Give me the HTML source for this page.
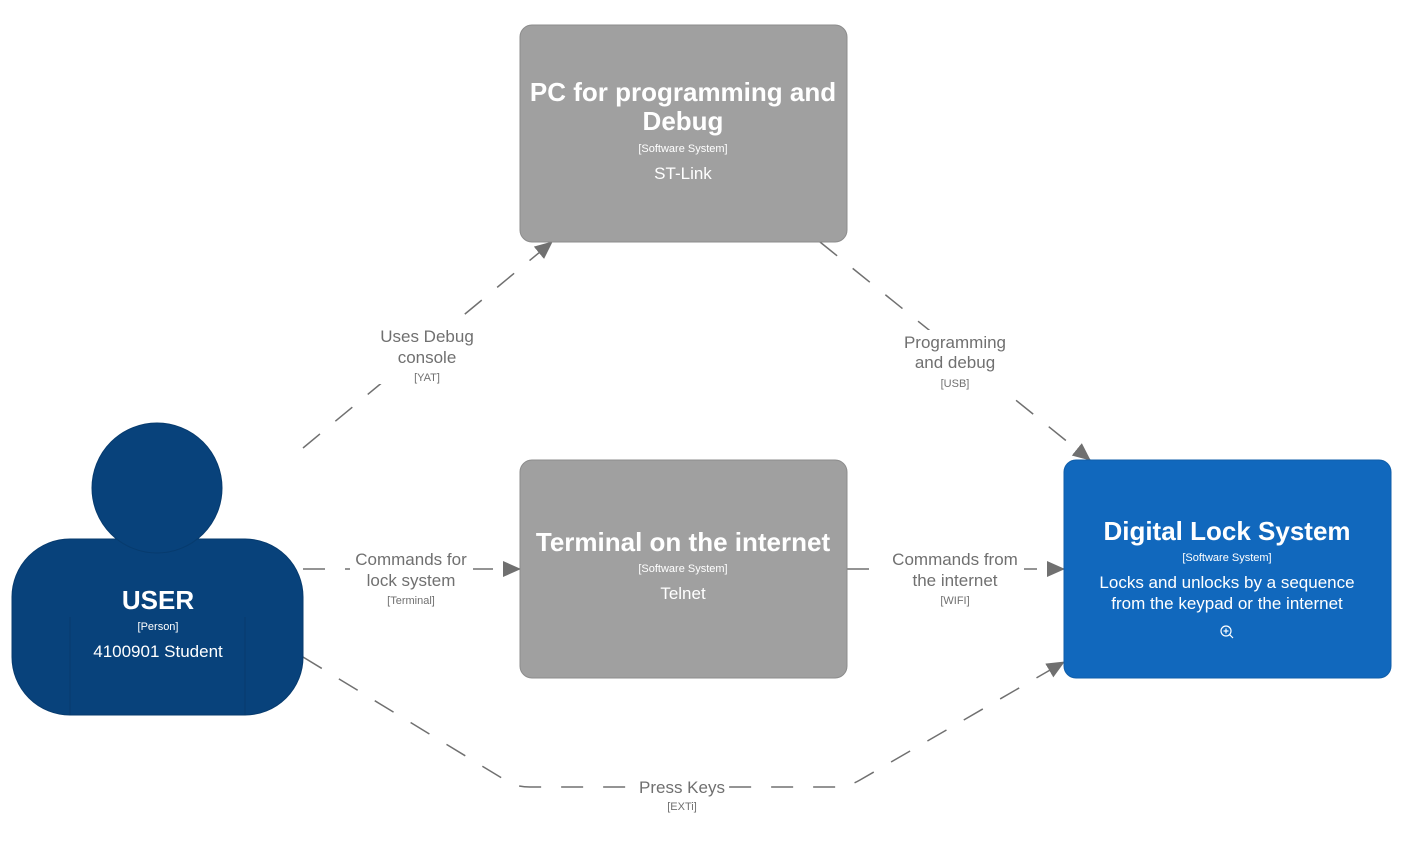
<!DOCTYPE html>
<html><head><meta charset="utf-8"><style>
html,body{margin:0;padding:0;background:#fff;}
svg{display:block;font-family:"Liberation Sans",sans-serif;}
</style></head><body>
<svg width="1414" height="853" viewBox="0 0 1414 853" xmlns="http://www.w3.org/2000/svg">
<defs>
<marker id="a" markerWidth="10" markerHeight="10" refX="9" refY="5" orient="auto" markerUnits="userSpaceOnUse" viewBox="0 0 10 10">
<path d="M0,0 L10,5 L0,10 z" fill="#707070"/></marker>
<marker id="b" markerWidth="18" markerHeight="18" refX="17" refY="9" orient="auto" markerUnits="userSpaceOnUse" viewBox="0 0 18 18">
<path d="M0,1 L18,9 L0,17 z" fill="#707070"/></marker>
</defs>
<g stroke="#707070" stroke-width="1.5" fill="none" stroke-dasharray="22,20">
<path d="M303,448 L552,242" marker-end="url(#b)"/>
<path d="M820,242 L1090,460" marker-end="url(#b)"/>
<path d="M303,569 L520,569" marker-end="url(#b)"/>
<path d="M847,569 L1064,569" marker-end="url(#b)"/>
<path d="M303,657 L505,780 Q515,787 530,787 L835,787 Q848,787 860,780 L1064,662" marker-end="url(#b)"/>
</g>
<g text-anchor="middle" fill="#707070">
<rect x="370" y="322" width="115" height="62" fill="#fff"/>
<text x="427" y="342" font-size="17">Uses Debug</text>
<text x="427" y="363" font-size="17">console</text>
<text x="427" y="381" font-size="11">[YAT]</text>
<rect x="893" y="330" width="125" height="60" fill="#fff"/>
<text x="955" y="348" font-size="17">Programming</text>
<text x="955" y="368" font-size="17">and debug</text>
<text x="955" y="387" font-size="11">[USB]</text>
<rect x="350" y="548" width="123" height="58" fill="#fff"/>
<text x="411" y="565" font-size="17">Commands for</text>
<text x="411" y="586" font-size="17">lock system</text>
<text x="411" y="604" font-size="11">[Terminal]</text>
<rect x="886" y="548" width="138" height="58" fill="#fff"/>
<text x="955" y="565" font-size="17">Commands from</text>
<text x="955" y="586" font-size="17">the internet</text>
<text x="955" y="604" font-size="11">[WIFI]</text>
<rect x="638" y="775" width="88" height="38" fill="#fff"/>
<text x="682" y="793" font-size="17">Press Keys</text>
<text x="682" y="810" font-size="11">[EXTi]</text>
</g>
<rect x="520" y="25" width="327" height="217" rx="12" fill="#a0a0a0" stroke="#8c8c8c"/>
<rect x="520" y="460" width="327" height="218" rx="12" fill="#a0a0a0" stroke="#8c8c8c"/>
<rect x="1064" y="460" width="327" height="218" rx="12" fill="#1168bd" stroke="#0f5eaa"/>
<rect x="12" y="539" width="291" height="176" rx="58" fill="#08427b" stroke="#073b6e"/>
<circle cx="157" cy="488" r="65" fill="#08427b" stroke="#073b6e"/>
<line x1="70" y1="617" x2="70" y2="715" stroke="#073a6c"/>
<line x1="245" y1="617" x2="245" y2="715" stroke="#073a6c"/>
<g text-anchor="middle" fill="#fff">
<text x="683" y="101" font-size="26" font-weight="bold">PC for programming and</text>
<text x="683" y="130" font-size="26" font-weight="bold">Debug</text>
<text x="683" y="152" font-size="11">[Software System]</text>
<text x="683" y="179" font-size="17">ST-Link</text>
<text x="683" y="551" font-size="26" font-weight="bold">Terminal on the internet</text>
<text x="683" y="572" font-size="11">[Software System]</text>
<text x="683" y="599" font-size="17">Telnet</text>
<text x="1227" y="540" font-size="26" font-weight="bold">Digital Lock System</text>
<text x="1227" y="561" font-size="11">[Software System]</text>
<text x="1227" y="588" font-size="17">Locks and unlocks by a sequence</text>
<text x="1227" y="609" font-size="17">from the keypad or the internet</text>
<text x="158" y="609" font-size="26" font-weight="bold">USER</text>
<text x="158" y="630" font-size="11">[Person]</text>
<text x="158" y="657" font-size="17">4100901 Student</text>
</g>
<g stroke="#fff" stroke-width="1.2" fill="none">
<circle cx="1226" cy="631" r="5"/>
<line x1="1229.5" y1="634.5" x2="1233" y2="638"/>
<line x1="1223.5" y1="631" x2="1228.5" y2="631"/>
<line x1="1226" y1="628.5" x2="1226" y2="633.5"/>
</g>
</svg>
</body></html>
